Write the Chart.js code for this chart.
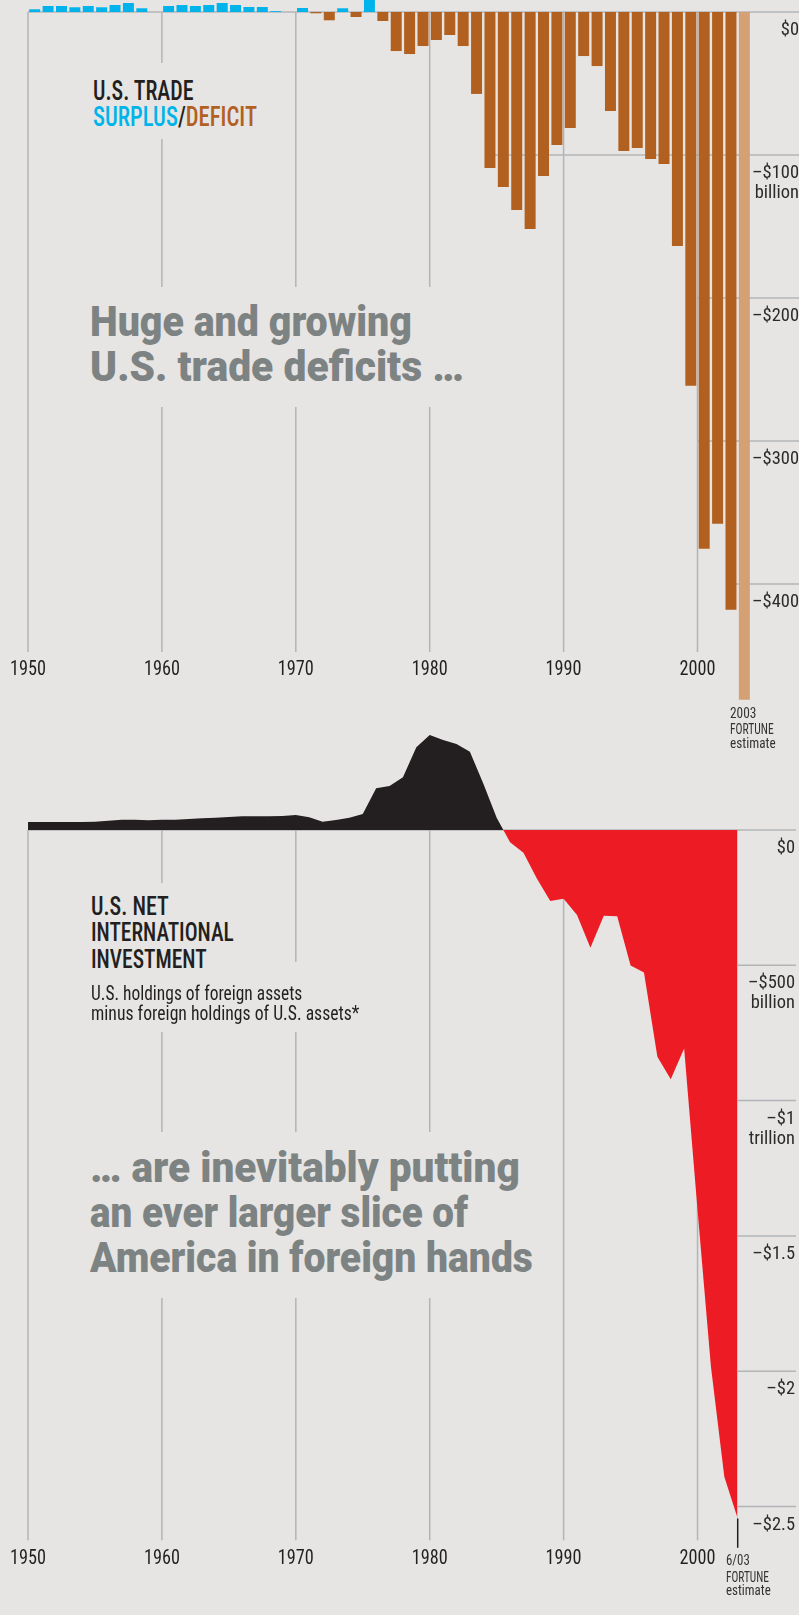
<!DOCTYPE html>
<html lang="en">
<head>
<meta charset="UTF-8" />
<title>U.S. trade deficits and net international investment</title>
<script src="https://cdn.jsdelivr.net/npm/chart.js"></script>
<style>
  body { margin: 0; background: #e6e5e3; }
  #page { position: relative; width: 799px; height: 1615px; overflow: hidden; }
  .box { position: absolute; left: 0; width: 799px; }
  .mask { position: absolute; background: #e6e5e3; }
  .t { position: absolute; white-space: nowrap; transform-origin: 0 0; line-height: 1; }
  .cond { font-family: "Roboto Condensed", Roboto, sans-serif; color: #231f20; }
  .title { font-weight: 500; }
  .heavy { font-family: Roboto, Lato, sans-serif; font-weight: 900; color: #7d8282; font-size: 43px; }
  .note { font-size: 15px; color: #333; }
  .probe { display: inline-block; width: 0; height: 0; }
</style>
</head>
<body>
<div id="page">
  <div class="box" style="top:0;height:760px"><canvas id="tradeChart"></canvas></div>
  <div class="box" style="top:690px;height:925px"><canvas id="niipChart"></canvas></div>

  <!-- gaps in the year lines behind the headlines -->
  <div class="mask" style="left:85px;top:63px;width:180px;height:76px"></div>
  <div class="mask" style="left:85px;top:287px;width:390px;height:120px"></div>
  <div class="mask" style="left:85px;top:883px;width:150px;height:149px"></div>
  <div class="mask" style="left:85px;top:962px;width:280px;height:70px"></div>
  <div class="mask" style="left:85px;top:1132px;width:455px;height:166px"></div>

  <div class="t cond title" style="font-size:27px" data-x="92.7" data-b="100" data-w="100.7">U.S. TRADE</div>
  <div class="t cond title" style="font-size:27px" data-x="92.7" data-b="126" data-w="164"><span style="color:#00b4eb">SURPLUS</span>/<span style="color:#b1601f">DEFICIT</span></div>
  <div class="t heavy" data-x="90" data-b="336" data-w="322">Huge and growing</div>
  <div class="t heavy" data-x="90" data-b="380.7" data-w="374">U.S. trade deficits …</div>

  <div class="t cond note" data-x="730" data-b="717.7" data-w="26.7">2003</div>
  <div class="t cond note" data-x="730" data-b="733.7" data-w="44">FORTUNE</div>
  <div class="t cond note" data-x="730" data-b="748" data-w="45.9">estimate</div>

  <div class="t cond title" style="font-size:25.5px" data-x="90.7" data-b="915" data-w="77.7">U.S. NET</div>
  <div class="t cond title" style="font-size:25.5px" data-x="90.7" data-b="941" data-w="142.7">INTERNATIONAL</div>
  <div class="t cond title" style="font-size:25.5px" data-x="90.7" data-b="967.7" data-w="115.3">INVESTMENT</div>
  <div class="t cond" style="font-size:20px" data-x="90.7" data-b="999.5" data-w="211">U.S. holdings of foreign assets</div>
  <div class="t cond" style="font-size:20px" data-x="90.7" data-b="1020" data-w="268.7">minus foreign holdings of U.S. assets*</div>
  <div class="t heavy" data-x="90" data-b="1181.7" data-w="430">… are inevitably putting</div>
  <div class="t heavy" data-x="90" data-b="1226.7" data-w="378">an ever larger slice of</div>
  <div class="t heavy" data-x="90" data-b="1271.7" data-w="443">America in foreign hands</div>

  <div class="t cond note" data-x="726" data-b="1565" data-w="24">6/03</div>
  <div class="t cond note" data-x="726" data-b="1581.7" data-w="43.3">FORTUNE</div>
  <div class="t cond note" data-x="726" data-b="1595" data-w="45">estimate</div>
</div>

<script>
  // years shown on both charts (2003 = FORTUNE estimate)
  const years = [1950, 1951, 1952, 1953, 1954, 1955, 1956, 1957, 1958, 1959,
    1960, 1961, 1962, 1963, 1964, 1965, 1966, 1967, 1968, 1969,
    1970, 1971, 1972, 1973, 1974, 1975, 1976, 1977, 1978, 1979,
    1980, 1981, 1982, 1983, 1984, 1985, 1986, 1987, 1988, 1989,
    1990, 1991, 1992, 1993, 1994, 1995, 1996, 1997, 1998, 1999,
    2000, 2001, 2002, 2003];
  const decades = [1950, 1960, 1970, 1980, 1990, 2000];

  // trade surplus / deficit, $ billion
  const tradeBalance = [1.9, 4.2, 4.2, 3.3, 4.2, 3.3, 4.9, 6.3, 2.6, 0,
    4.2, 4.9, 4.2, 4.9, 6.3, 4.9, 3.5, 3.5, 0.6, 0,
    2.8, -0.9, -5.8, 2.6, -3.5, 9, -6.3, -27.3, -29.4, -23.8,
    -19.6, -16.1, -23.8, -57.3, -109.1, -122.4, -138.5, -151.7, -114.7, -93.0,
    -81.1, -30.8, -37.8, -69.2, -97.2, -95.1, -102.8, -106.3, -163.6, -261.3,
    -375.3, -357.8, -418, -481];

  // net international investment position, $ billion
  const netInvestment = [29.6, 29.6, 29.6, 29.6, 29.6, 30.8, 34.5, 38.2, 38.2, 35.7,
    38.2, 38.2, 40.6, 43.1, 45.6, 48, 50.5, 50.5, 50.5, 51.7,
    55.4, 46.8, 30.8, 37, 45.6, 59.1, 154, 162.6, 194.6, 305.5,
    351, 332.6, 317.8, 289.5, 172, 45, -45, -84, -179, -262,
    -254, -314, -435, -317, -319, -501, -527, -838, -921, -807,
    -1404, -1983, -2390, -2544];

  const tradeTicks = [0, -100, -200, -300, -400];
  const tradeTickLabels = [['$0'], ['–$100', 'billion'], ['–$200'], ['–$300'], ['–$400']];
  const niipTicks = [0, -500, -1000, -1500, -2000, -2500];
  const niipTickLabels = [['$0'], ['–$500', 'billion'], ['–$1', 'trillion'], ['–$1.5'], ['–$2'], ['–$2.5']];

  const GRID = '#b3b4b7';
  const COND = '"Roboto Condensed", Roboto, sans-serif';

  // left edge of a year's slot on the category axis
  function catX(chart, yr) {
    const s = chart.scales.x;
    const step = s.getPixelForValue(1) - s.getPixelForValue(0);
    return s.getPixelForValue(0) + (yr - years[0] - 0.5) * step;
  }
  function linX(chart, yr) {
    return chart.scales.x.getPixelForValue(yr);
  }

  // draw text squeezed horizontally by k
  function squeezed(ctx, text, x, y, k) {
    ctx.save();
    ctx.translate(x, y);
    ctx.scale(k, 1);
    ctx.fillText(text, 0, 0);
    ctx.restore();
  }

  // year lines, partial horizontal rules, tick labels
  const decor = {
    id: 'decor',
    beforeDatasetsDraw(chart, args, o) {
      const ctx = chart.ctx, y = chart.scales.y;
      ctx.save();
      ctx.strokeStyle = GRID;
      ctx.lineWidth = 1.5;
      decades.forEach(yr => {
        const px = o.xAt(chart, yr);
        ctx.beginPath();
        ctx.moveTo(px, y.getPixelForValue(0));
        ctx.lineTo(px, y.getPixelForValue(o.vTo));
        ctx.stroke();
      });
      o.ticks.forEach((v, i) => {
        const py = y.getPixelForValue(v);
        ctx.beginPath();
        ctx.moveTo(o.xAt(chart, o.hFrom[i]), py);
        ctx.lineTo(o.hRight, py);
        ctx.stroke();
      });
      ctx.restore();
    },
    afterDraw(chart, args, o) {
      const ctx = chart.ctx, y = chart.scales.y;
      ctx.save();
      if (o.estimate) {
        const last = o.estimate.length - 1;
        const px = o.xAt(chart, years[last]);
        ctx.strokeStyle = '#231f20';
        ctx.lineWidth = 1.5;
        ctx.beginPath();
        ctx.moveTo(px, y.getPixelForValue(o.estimate[last]));
        ctx.lineTo(px, chart.chartArea.bottom - 2);
        ctx.stroke();
      }
      ctx.textBaseline = 'alphabetic';
      ctx.fillStyle = '#231f20';
      ctx.font = '20px ' + COND;
      ctx.textAlign = 'center';
      const ky = 36 / ctx.measureText('1950').width;
      const yb = y.getPixelForValue(o.vTo) + 23.5;
      decades.forEach(yr => squeezed(ctx, String(yr), o.xAt(chart, yr), yb, ky));
      ctx.fillStyle = '#2b2b2b';
      ctx.font = '19px ' + COND;
      ctx.textAlign = 'right';
      const kl = 47 / ctx.measureText('–$300').width;
      o.ticks.forEach((v, i) => {
        const py = y.getPixelForValue(v);
        o.labels[i].forEach((line, k) => squeezed(ctx, line, o.labelRight, py + 23 + k * 20, kl));
      });
      ctx.restore();
    }
  };

  new Chart(document.getElementById('tradeChart'), {
    type: 'bar',
    data: {
      labels: years,
      datasets: [{
        data: tradeBalance,
        clip: false,
        borderWidth: 0,
        barPercentage: 0.82,
        categoryPercentage: 1,
        backgroundColor: c => c.dataIndex === years.length - 1 ? '#d4a074'
          : (c.raw >= 0 ? '#00b4eb' : '#b1601f')
      }]
    },
    options: {
      responsive: true,
      maintainAspectRatio: false,
      animation: false,
      layout: { padding: { left: 28, right: 47.94, top: 12, bottom: 104.5 } },
      scales: {
        x: { type: 'category', display: false, offset: true },
        y: { type: 'linear', display: false, min: -450, max: 0 }
      },
      plugins: {
        legend: { display: false },
        tooltip: { enabled: false },
        decor: {
          xAt: catX, vTo: -447.5,
          ticks: tradeTicks, labels: tradeTickLabels,
          hFrom: [1950, 1984.7, 2000, 2000, 2002.8],
          hRight: 799, labelRight: 799
        }
      }
    },
    plugins: [decor]
  });

  new Chart(document.getElementById('niipChart'), {
    type: 'line',
    data: {
      datasets: [{
        data: years.map((yr, i) => ({ x: yr, y: netInvestment[i] })),
        borderWidth: 0,
        borderColor: 'rgba(0,0,0,0)',
        pointRadius: 0,
        tension: 0,
        fill: { target: 'origin', above: '#231f20', below: '#ed1c24' }
      }]
    },
    options: {
      responsive: true,
      maintainAspectRatio: false,
      animation: false,
      layout: { padding: { left: 28, right: 61.3, top: 4.7, bottom: 65.2 } },
      scales: {
        x: { type: 'linear', display: false, min: 1950, max: 2003 },
        y: { type: 'linear', display: false, min: -2660, max: 500 }
      },
      plugins: {
        legend: { display: false },
        tooltip: { enabled: false },
        decor: {
          xAt: linX, vTo: -2625,
          ticks: niipTicks, labels: niipTickLabels,
          hFrom: [1950, 2003, 2003, 2003, 2003, 2003],
          hRight: 796, labelRight: 795,
          estimate: netInvestment
        }
      }
    },
    plugins: [decor]
  });

  // put each text line on its baseline and squeeze it to the measured width
  function placeText() {
    document.querySelectorAll('.t').forEach(el => {
      el.style.transform = 'none';
      el.style.left = el.dataset.x + 'px';
      el.style.top = '0px';
      const probe = document.createElement('span');
      probe.className = 'probe';
      el.appendChild(probe);
      const base = probe.offsetTop;
      el.removeChild(probe);
      el.style.top = (el.dataset.b - base) + 'px';
      el.style.transform = 'scaleX(' + (el.dataset.w / el.offsetWidth) + ')';
    });
  }
  placeText();
  document.fonts.ready.then(placeText);
</script>
</body>
</html>
